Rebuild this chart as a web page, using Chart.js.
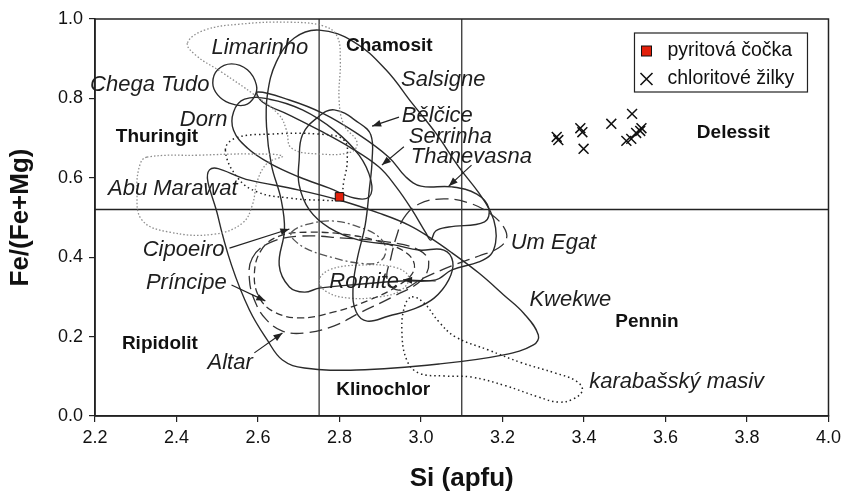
<!DOCTYPE html>
<html>
<head>
<meta charset="utf-8">
<script src="https://cdn.jsdelivr.net/npm/chart.js@4.4.1/dist/chart.umd.min.js"></script>
<style>
  html, body { margin: 0; padding: 0; background: #fff; }
  #wrap { width: 846px; height: 499px; }
</style>
</head>
<body>
<div id="wrap"><canvas id="chlorit" width="846" height="499"></canvas></div>
<script>
// -------------------------------
// DATA (Si apfu / Fe/(Fe+Mg))
// -------------------------------
const X_TICKS = [2.2, 2.4, 2.6, 2.8, 3.0, 3.2, 3.4, 3.6, 3.8, 4.0];
const Y_TICKS = [0.0, 0.2, 0.4, 0.6, 0.8, 1.0];

// hranice poli (Hey 1954)
const boundarySi = [2.75, 3.1];
const boundaryFe = [0.52];

// vzorky
const pyritX = [2.80];
const pyritY = [0.552];
const zilkyX = [3.333, 3.337, 3.391, 3.396, 3.399, 3.467, 3.518, 3.504, 3.516, 3.528, 3.538, 3.541];
const zilkyY = [0.703, 0.695, 0.725, 0.715, 0.673, 0.736, 0.761, 0.693, 0.698, 0.713, 0.718, 0.725];

// obalove krivky lokalit
const limarinhoX = [2.427, 2.469, 2.555, 2.677, 2.762, 2.794, 2.802, 2.799, 2.811, 2.843, 2.829, 2.750, 2.682, 2.670, 2.652, 2.591, 2.511, 2.447];
const limarinhoY = [0.940, 0.972, 0.987, 0.992, 0.982, 0.957, 0.897, 0.796, 0.733, 0.690, 0.665, 0.660, 0.675, 0.720, 0.758, 0.809, 0.866, 0.909];

const abuX = [2.327, 2.457, 2.579, 2.660, 2.623, 2.599, 2.586, 2.562, 2.493, 2.383, 2.315, 2.303, 2.310];
const abuY = [0.652, 0.657, 0.660, 0.655, 0.637, 0.594, 0.531, 0.486, 0.458, 0.463, 0.494, 0.569, 0.632];

const dornDotX = [2.520, 2.545, 2.628, 2.750, 2.811, 2.819, 2.811, 2.799, 2.750, 2.677, 2.599, 2.550];
const dornDotY = [0.670, 0.700, 0.710, 0.710, 0.695, 0.645, 0.594, 0.549, 0.544, 0.549, 0.564, 0.600];

const chegaX = [2.489, 2.501, 2.535, 2.574, 2.596, 2.591, 2.567, 2.530, 2.501];
const chegaY = [0.839, 0.872, 0.887, 0.872, 0.834, 0.804, 0.783, 0.788, 0.809];

const dornX = [2.567, 2.628, 2.709, 2.787, 2.848, 2.877, 2.873, 2.836, 2.775, 2.701, 2.628, 2.574, 2.540, 2.540];
const dornY = [0.798, 0.798, 0.771, 0.720, 0.657, 0.594, 0.552, 0.549, 0.574, 0.602, 0.637, 0.675, 0.720, 0.766];

const serrinhaX = [2.599, 2.677, 2.758, 2.841, 2.921, 2.963, 3.000, 3.076, 3.137, 3.166, 3.156, 3.068, 3.036, 3.024, 3.012, 2.978, 2.939, 2.897, 2.824, 2.750, 2.677, 2.611];
const serrinhaY = [0.816, 0.796, 0.763, 0.713, 0.652, 0.602, 0.579, 0.577, 0.559, 0.524, 0.489, 0.476, 0.466, 0.443, 0.461, 0.519, 0.577, 0.627, 0.678, 0.720, 0.758, 0.791];

const salsigneX = [2.750, 2.836, 2.914, 2.978, 3.036, 3.093, 3.142, 3.171, 3.183, 3.183, 3.171, 3.142, 3.076, 3.036, 2.953, 2.848, 2.750, 2.714, 2.677, 2.652, 2.665, 2.657, 2.633, 2.621, 2.623, 2.645, 2.689];
const salsigneY = [0.972, 0.942, 0.872, 0.788, 0.713, 0.627, 0.562, 0.514, 0.474, 0.436, 0.406, 0.388, 0.368, 0.343, 0.340, 0.332, 0.322, 0.312, 0.325, 0.380, 0.469, 0.544, 0.632, 0.728, 0.809, 0.892, 0.952];

const belciceX = [2.709, 2.745, 2.787, 2.848, 2.877, 2.880, 2.873, 2.863, 2.843, 2.833, 2.841, 2.868, 2.921, 2.983, 3.032, 3.068, 3.078, 3.056, 2.995, 2.934, 2.848, 2.775, 2.726, 2.701, 2.701];
const belciceY = [0.708, 0.751, 0.771, 0.738, 0.708, 0.645, 0.569, 0.481, 0.393, 0.317, 0.262, 0.239, 0.252, 0.270, 0.297, 0.343, 0.388, 0.418, 0.418, 0.431, 0.443, 0.474, 0.519, 0.582, 0.645];

const kwekweX = [2.481, 2.579, 2.701, 2.799, 2.897, 2.970, 3.024, 3.076, 3.142, 3.203, 3.252, 3.288, 3.276, 3.203, 3.044, 2.841, 2.714, 2.660, 2.623, 2.579, 2.535, 2.501];
const kwekweY = [0.620, 0.594, 0.569, 0.544, 0.511, 0.481, 0.448, 0.411, 0.360, 0.305, 0.259, 0.204, 0.179, 0.154, 0.131, 0.116, 0.121, 0.141, 0.191, 0.267, 0.380, 0.506];

const cipoeiroX = [2.682, 2.726, 2.787, 2.848, 2.897, 2.914, 2.897, 2.848, 2.787, 2.726, 2.689];
const cipoeiroY = [0.463, 0.484, 0.491, 0.476, 0.451, 0.418, 0.388, 0.385, 0.398, 0.418, 0.443];

const principeX = [2.608, 2.652, 2.726, 2.824, 2.909, 2.970, 2.983, 2.946, 2.873, 2.787, 2.701, 2.640, 2.604, 2.591];
const principeY = [0.418, 0.453, 0.463, 0.456, 0.436, 0.406, 0.368, 0.330, 0.292, 0.262, 0.247, 0.262, 0.297, 0.355];

const altarX = [2.586, 2.628, 2.701, 2.811, 2.921, 2.995, 3.019, 3.002, 2.934, 2.848, 2.787, 2.714, 2.660, 2.621, 2.594, 2.579];
const altarY = [0.398, 0.436, 0.453, 0.448, 0.438, 0.418, 0.388, 0.343, 0.302, 0.259, 0.227, 0.209, 0.214, 0.242, 0.285, 0.343];

const umEgatX = [2.958, 2.995, 3.056, 3.117, 3.171, 3.203, 3.210, 3.190, 3.142, 3.080, 3.007, 2.946, 2.917, 2.926, 2.941];
const umEgatY = [0.499, 0.534, 0.547, 0.537, 0.509, 0.476, 0.448, 0.423, 0.403, 0.380, 0.348, 0.317, 0.343, 0.398, 0.456];

const romiteX = [2.750, 2.775, 2.848, 2.934, 2.970, 2.951, 2.897, 2.824, 2.770];
const romiteY = [0.340, 0.368, 0.380, 0.375, 0.350, 0.317, 0.300, 0.297, 0.312];

const karabasX = [2.978, 3.007, 3.044, 3.085, 3.166, 3.247, 3.330, 3.381, 3.396, 3.374, 3.337, 3.288, 3.208, 3.124, 3.056, 2.995, 2.965, 2.953, 2.961];
const karabasY = [0.300, 0.285, 0.237, 0.199, 0.166, 0.134, 0.108, 0.088, 0.065, 0.043, 0.035, 0.048, 0.076, 0.098, 0.101, 0.108, 0.141, 0.217, 0.280];

// sipky od popisku ke krivkam
const arrowFromX = [2.946, 2.958, 3.124, 2.530, 2.535, 2.591, 3.036];
const arrowFromY = [0.753, 0.678, 0.632, 0.423, 0.330, 0.159, 0.340];
const arrowToX = [2.880, 2.904, 3.068, 2.677, 2.618, 2.660, 2.956];
const arrowToY = [0.730, 0.632, 0.579, 0.471, 0.290, 0.209, 0.343];

// popisky lokalit (kurziva)
const siteNames = ["Limarinho", "Chega Tudo", "Dorn", "Abu Marawat", "Salsigne", "Bělčice", "Serrinha", "Thanevasna",
  "Cipoeiro", "Príncipe", "Altar", "Romite", "Um Egat", "Kwekwe", "karabašský masiv"];
const siteX = [2.486, 2.188, 2.408, 2.232, 2.951, 2.953, 2.970, 2.975, 2.317, 2.325, 2.476, 2.775, 3.220, 3.266, 3.413];
const siteY = [0.927, 0.834, 0.746, 0.572, 0.846, 0.756, 0.703, 0.652, 0.418, 0.335, 0.134, 0.338, 0.436, 0.292, 0.086];

// nazvy chloritu (tucne)
const zoneNames = ["Chamosit", "Thuringit", "Delessit", "Ripidolit", "Klinochlor", "Pennin"];
const zoneX = [2.816, 2.251, 3.677, 2.266, 2.792, 3.477];
const zoneY = [0.932, 0.703, 0.713, 0.181, 0.065, 0.237];

// -------------------------------
// STYLY CAR
// -------------------------------
const LINE_STYLES = {
  solid:    { color: '#2b2b2b', width: 1.4, dash: [] },
  greyDot:  { color: '#8c8c8c', width: 1.3, dash: [1.5, 2] },
  blackDot: { color: '#222222', width: 1.5, dash: [1.5, 3] },
  dashDot:  { color: '#555555', width: 1.3, dash: [8, 3, 2, 3] },
  dash:     { color: '#333333', width: 1.3, dash: [7, 4] },
  longDash: { color: '#333333', width: 1.3, dash: [13, 6] }
};

function toPoints(xs, ys) {
  return xs.map((x, i) => ({ x: x, y: ys[i] }));
}

function envelope(label, xs, ys, styleName) {
  const st = LINE_STYLES[styleName];
  return {
    label: label,
    data: toPoints(xs, ys),
    borderColor: st.color,
    borderWidth: st.width,
    borderDash: st.dash,
    pointRadius: 0,
    tension: 0.4,
    fill: false,
    closed: true
  };
}

function straight(label, xs, ys, color, width, isArrow) {
  return {
    label: label,
    data: toPoints(xs, ys),
    borderColor: color,
    borderWidth: width,
    pointRadius: 0,
    tension: 0,
    fill: false,
    arrow: !!isArrow
  };
}

const datasets = [];

// body nahore
datasets.push({
  label: 'pyritová čočka',
  data: toPoints(pyritX, pyritY),
  showLine: false,
  pointStyle: 'rect',
  pointRadius: 6,
  pointBackgroundColor: '#e3200b',
  pointBorderColor: '#111',
  pointBorderWidth: 1
});
datasets.push({
  label: 'chloritové žilky',
  data: toPoints(zilkyX, zilkyY),
  showLine: false,
  pointStyle: 'crossRot',
  pointRadius: 7,
  pointBorderColor: '#111',
  pointBorderWidth: 1.5
});

// sipky
arrowFromX.forEach((fx, i) => {
  datasets.push(straight('arrow' + i, [fx, arrowToX[i]], [arrowFromY[i], arrowToY[i]], '#222', 1.2, true));
});

// obalky
datasets.push(envelope('Limarinho', limarinhoX, limarinhoY, 'greyDot'));
datasets.push(envelope('Abu Marawat', abuX, abuY, 'greyDot'));
datasets.push(envelope('Dorn (tečk.)', dornDotX, dornDotY, 'blackDot'));
datasets.push(envelope('Chega Tudo', chegaX, chegaY, 'solid'));
datasets.push(envelope('Dorn', dornX, dornY, 'solid'));
datasets.push(envelope('Serrinha', serrinhaX, serrinhaY, 'solid'));
datasets.push(envelope('Salsigne', salsigneX, salsigneY, 'solid'));
datasets.push(envelope('Bělčice', belciceX, belciceY, 'solid'));
datasets.push(envelope('Kwekwe', kwekweX, kwekweY, 'solid'));
datasets.push(envelope('Cipoeiro', cipoeiroX, cipoeiroY, 'dashDot'));
datasets.push(envelope('Príncipe', principeX, principeY, 'dash'));
datasets.push(envelope('Altar', altarX, altarY, 'longDash'));
datasets.push(envelope('Um Egat', umEgatX, umEgatY, 'longDash'));
datasets.push(envelope('Romite', romiteX, romiteY, 'greyDot'));
datasets.push(envelope('karabašský masiv', karabasX, karabasY, 'blackDot'));

// hranice poli
boundarySi.forEach(si => {
  datasets.push(straight('Si ' + si, [si, si], [Y_TICKS[0], Y_TICKS[Y_TICKS.length - 1]], '#333', 1.3));
});
boundaryFe.forEach(fe => {
  datasets.push(straight('Fe ' + fe, [X_TICKS[0], X_TICKS[X_TICKS.length - 1]], [fe, fe], '#222', 1.5));
});

// -------------------------------
// PLUGINY
// -------------------------------
// uzavrene krivky (jako u radar grafu)
const closeLoops = {
  id: 'closeLoops',
  beforeDatasetDraw(chart, args) {
    const ds = chart.data.datasets[args.index];
    if (!ds.closed) return;
    const line = args.meta.dataset;
    if (line) {
      line._loop = true;
      line._fullLoop = true;
      line._segments = undefined;
      line._pointsUpdated = false;
      line._path = undefined;
    }
  }
};

const arrowHeads = {
  id: 'arrowHeads',
  afterDatasetsDraw(chart) {
    const ctx = chart.ctx;
    chart.data.datasets.forEach((ds, i) => {
      if (!ds.arrow) return;
      const pts = chart.getDatasetMeta(i).data;
      const a = pts[0], b = pts[pts.length - 1];
      const ang = Math.atan2(b.y - a.y, b.x - a.x);
      const len = 9, half = 3.5;
      ctx.save();
      ctx.fillStyle = '#222';
      ctx.translate(b.x, b.y);
      ctx.rotate(ang);
      ctx.beginPath();
      ctx.moveTo(0, 0);
      ctx.lineTo(-len, -half);
      ctx.lineTo(-len, half);
      ctx.closePath();
      ctx.fill();
      ctx.restore();
    });
  }
};

const frameAndText = {
  id: 'frameAndText',
  afterDatasetsDraw(chart) {
    const ctx = chart.ctx;
    const area = chart.chartArea;
    const xs = chart.scales.x, ys = chart.scales.y;

    // ramecek grafu
    ctx.save();
    ctx.strokeStyle = '#222';
    ctx.lineWidth = 1.5;
    ctx.strokeRect(area.left, area.top, area.right - area.left, area.bottom - area.top);

    ctx.textAlign = 'left';
    ctx.textBaseline = 'middle';

    // lokality
    ctx.fillStyle = '#1e1e1e';
    ctx.font = 'italic 22px "Liberation Sans", Arial, sans-serif';
    siteNames.forEach((name, i) => {
      ctx.fillText(name, xs.getPixelForValue(siteX[i]), ys.getPixelForValue(siteY[i]));
    });

    // pole chloritu
    ctx.fillStyle = '#111';
    ctx.font = 'bold 19px "Liberation Sans", Arial, sans-serif';
    zoneNames.forEach((name, i) => {
      ctx.fillText(name, xs.getPixelForValue(zoneX[i]), ys.getPixelForValue(zoneY[i]));
    });

    // legenda
    const bx = area.right - 194, by = area.top + 14, bw = 173, bh = 59;
    ctx.fillStyle = '#fff';
    ctx.fillRect(bx, by, bw, bh);
    ctx.strokeStyle = '#222';
    ctx.lineWidth = 1.2;
    ctx.strokeRect(bx, by, bw, bh);

    ctx.fillStyle = '#e3200b';
    ctx.fillRect(bx + 7, by + 13, 10, 10);
    ctx.strokeStyle = '#111';
    ctx.lineWidth = 1;
    ctx.strokeRect(bx + 7, by + 13, 10, 10);

    ctx.lineWidth = 1.6;
    ctx.beginPath();
    ctx.moveTo(bx + 6, by + 40); ctx.lineTo(bx + 18, by + 52);
    ctx.moveTo(bx + 18, by + 40); ctx.lineTo(bx + 6, by + 52);
    ctx.stroke();

    ctx.fillStyle = '#111';
    ctx.font = '19.5px "Liberation Sans", Arial, sans-serif';
    ctx.fillText(datasets[0].label, bx + 33, by + 18);
    ctx.fillText(datasets[1].label, bx + 33, by + 46);
    ctx.restore();
  }
};

// -------------------------------
// GRAF
// -------------------------------
const ctx = document.getElementById('chlorit').getContext('2d');
// uzke pismo popisku os (jako Arial Narrow)
const tickFont = { family: '"Liberation Sans Narrow", "Arial Narrow", "Liberation Sans", Arial, sans-serif', size: 18, weight: 'condensed' };
const titleFont = { family: '"Liberation Sans", Arial, sans-serif', size: 26, weight: 'bold' };

new Chart(ctx, {
  type: 'line',
  data: { datasets: datasets },
  options: {
    responsive: false,
    animation: false,
    events: [],
    layout: { padding: { top: 19, right: 15, left: 0, bottom: 0 } },
    plugins: {
      legend: { display: false },
      tooltip: { enabled: false }
    },
    scales: {
      x: {
        type: 'linear',
        min: X_TICKS[0],
        max: X_TICKS[X_TICKS.length - 1],
        afterBuildTicks: scale => { scale.ticks = X_TICKS.map(v => ({ value: v })); },
        afterFit: scale => { scale.height = 83; },
        ticks: { color: '#111', font: tickFont, padding: 5, maxRotation: 0, callback: v => v.toFixed(1) },
        grid: { drawOnChartArea: false, drawTicks: true, tickLength: 6, color: '#222', lineWidth: 1.2 },
        border: { display: true, color: '#222', width: 1.5 },
        title: { display: true, text: 'Si (apfu)', color: '#111', font: titleFont, padding: { top: 0, bottom: 5 } }
      },
      y: {
        type: 'linear',
        min: Y_TICKS[0],
        max: Y_TICKS[Y_TICKS.length - 1],
        afterBuildTicks: scale => { scale.ticks = Y_TICKS.map(v => ({ value: v })); },
        afterFit: scale => { scale.width = 95; },
        ticks: { color: '#111', font: tickFont, padding: 6, callback: v => v.toFixed(1) },
        grid: { drawOnChartArea: false, drawTicks: true, tickLength: 6, color: '#222', lineWidth: 1.2 },
        border: { display: true, color: '#222', width: 1.5 },
        title: { display: true, text: 'Fe/(Fe+Mg)', color: '#111', font: titleFont, padding: { top: 5, bottom: 0 } }
      }
    }
  },
  plugins: [closeLoops, arrowHeads, frameAndText]
});
</script>
</body>
</html>
